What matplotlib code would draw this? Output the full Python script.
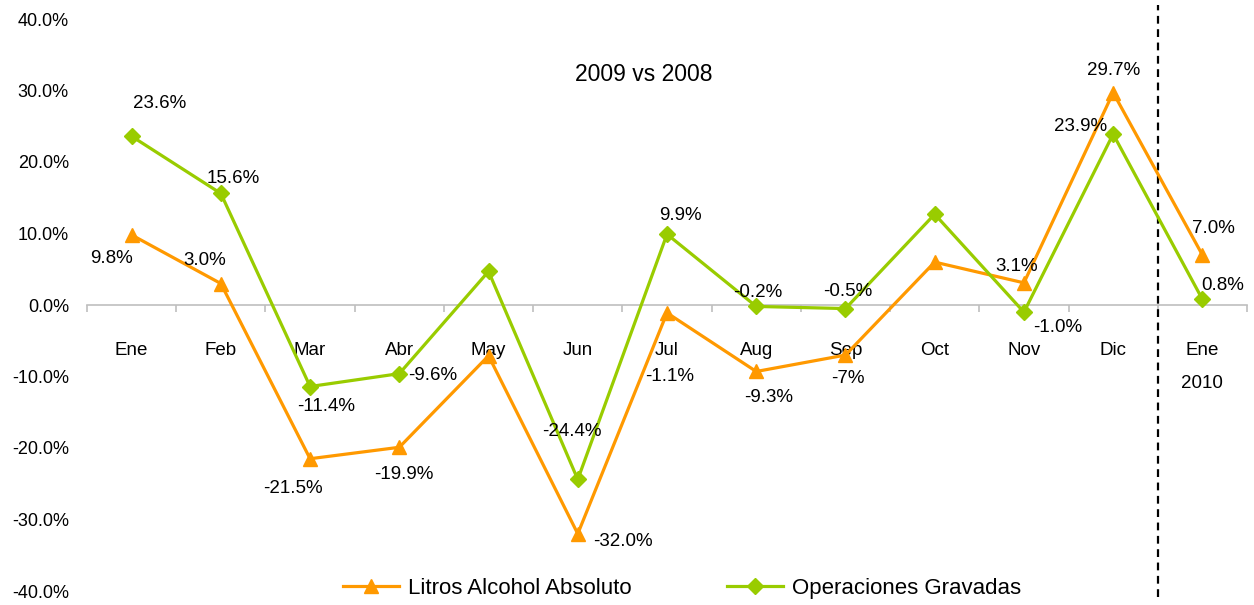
import matplotlib
matplotlib.use("Agg")
import matplotlib.pyplot as plt
from matplotlib.ticker import FixedLocator, PercentFormatter

plt.rcParams['font.family'] = ['Liberation Sans', 'DejaVu Sans']
plt.rcParams['axes.unicode_minus'] = False

months = ["Ene", "Feb", "Mar", "Abr", "May", "Jun", "Jul", "Aug", "Sep", "Oct", "Nov", "Dic", "Ene"]
litros = [9.8, 3.0, -21.5, -19.9, -7.1, -32.0, -1.1, -9.3, -7.0, 6.0, 3.1, 29.7, 7.0]
operaciones = [23.6, 15.6, -11.4, -9.6, 4.7, -24.4, 9.9, -0.2, -0.5, 12.7, -1.0, 23.9, 0.8]
litros_labels = ["9.8%", "3.0%", "-21.5%", "-19.9%", "", "-32.0%", "-1.1%", "-9.3%", "-7%", "", "3.1%", "29.7%", "7.0%"]
oper_labels = ["23.6%", "15.6%", "-11.4%", "-9.6%", "", "-24.4%", "9.9%", "-0.2%", "-0.5%", "", "-1.0%", "23.9%", "0.8%"]
yticks = [-40, -30, -20, -10, 0, 10, 20, 30, 40]

# label offsets in pixels (style)
litros_off = [(-20, -24), (-16, 23), (-17, -30), (5, -27), (0, 0), (45, -8), (3, -64), (12, -26),
              (2, -23), (0, 0), (-7, 16), (0, 22), (11, 26)]
oper_off = [(28, 33), (12, 15), (16, -20), (33, -2), (0, 0), (-6, 48), (13, 19), (2, 14),
            (2, 17), (0, 0), (34, -15), (-33, 8), (20, 14)]

ORANGE = "#FF9900"
GREEN = "#99CC00"
FS = 13.5

fig = plt.figure(figsize=(12.54, 6.05), dpi=100)
ax = fig.add_axes([87/1254, 14/605, (1247-87)/1254, (591-19)/605])

x = list(range(len(months)))
ax.plot(x, litros, color=ORANGE, lw=2.3, marker="^", ms=10, label="Litros Alcohol Absoluto", zorder=3)
ax.plot(x, operaciones, color=GREEN, lw=2.3, marker="D", ms=8, label="Operaciones Gravadas", zorder=3)

for xi, v, lab, off in zip(x, litros, litros_labels, litros_off):
    if lab:
        ax.annotate(lab, (xi, v), xytext=off, textcoords="offset pixels",
                    ha="center", va="center", fontsize=FS, color="black")
for xi, v, lab, off in zip(x, operaciones, oper_labels, oper_off):
    if lab:
        ax.annotate(lab, (xi, v), xytext=off, textcoords="offset pixels",
                    ha="center", va="center", fontsize=FS, color="black")

ax.set_xlim(-0.5, len(months) - 0.5)
ax.set_ylim(-40, 40)
ax.yaxis.set_major_locator(FixedLocator(yticks))
ax.yaxis.set_major_formatter(PercentFormatter(decimals=1))
ax.tick_params(axis="y", length=0, pad=13, labelsize=13)

for s in ["left", "right", "top"]:
    ax.spines[s].set_visible(False)
ax.spines["bottom"].set_position(("data", 0))
ax.spines["bottom"].set_color("#BFBFBF")
ax.spines["bottom"].set_linewidth(1.2)

ax.set_xticks(x)
ax.set_xticklabels(months, fontsize=FS)
ax.tick_params(axis="x", which="major", length=0, pad=26.5)
ax.set_xticks([i + 0.5 for i in range(-1, len(months))], minor=True)
ax.tick_params(axis="x", which="minor", length=5, color="#BFBFBF", width=1.2, direction="out")

ax.annotate("2010", (12, 0), xytext=(0, -79), textcoords="offset pixels",
            ha="center", va="center", fontsize=FS)

ax.axvline(11.5, ymin=-0.01, ymax=1.025, color="black", lw=1.6, ls=(0, (3.5, 2.5)), clip_on=False)

ax.text(5.74, 32.2, "2009 vs 2008", ha="center", va="center", fontsize=16.5)

leg = ax.legend(loc="center", bbox_to_anchor=(0.513, 0.005), ncol=2, frameon=False,
                fontsize=16, columnspacing=4.3, handlelength=2.5, handletextpad=0.4,
                borderpad=0, borderaxespad=0)

fig.savefig("out.png", dpi=100)
